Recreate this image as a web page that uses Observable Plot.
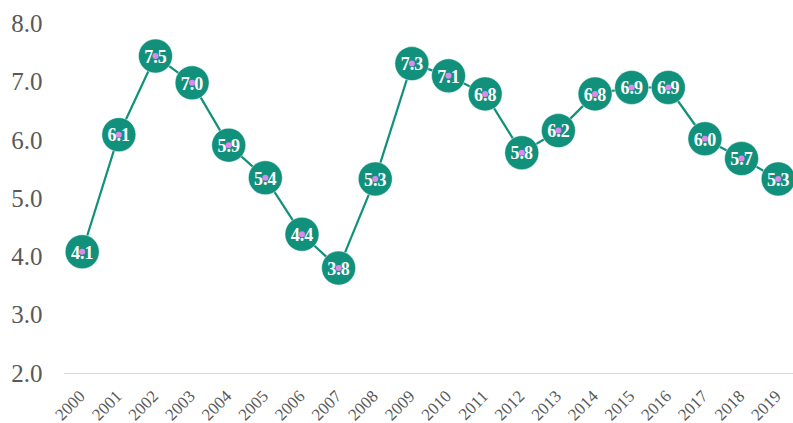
<!DOCTYPE html>
<html>
<head>
<meta charset="utf-8">
<script src="https://cdn.jsdelivr.net/npm/d3@7"></script>
<script src="https://cdn.jsdelivr.net/npm/@observablehq/plot@0.6"></script>
<style>
  html, body { margin: 0; padding: 0; background: #ffffff; }
  #chart { width: 793px; height: 423px; overflow: hidden; }
</style>
</head>
<body>
<div id="chart"></div>
<script>
const years = [2000, 2001, 2002, 2003, 2004, 2005, 2006, 2007, 2008, 2009,
               2010, 2011, 2012, 2013, 2014, 2015, 2016, 2017, 2018, 2019];
const values = [4.09, 6.10, 7.45, 6.99, 5.92, 5.36, 4.39, 3.81, 5.34, 7.32,
                7.11, 6.80, 5.79, 6.17, 6.80, 6.91, 6.91, 6.03, 5.69, 5.34];
const labels = ["4.1","6.1","7.5","7.0","5.9","5.4","4.4","3.8","5.3","7.3",
                "7.1","6.8","5.8","6.2","6.8","6.9","6.9","6.0","5.7","5.3"];
const yTicks = [2, 3, 4, 5, 6, 7, 8];
const yTickLabels = ["2.0","3.0","4.0","5.0","6.0","7.0","8.0"];

const data = years.map((y, i) => ({year: y, value: values[i], label: labels[i]}));

const teal = "#11917b";
const pink = "#dd88ee";
const gray = "#595959";
const serif = "'Liberation Serif', 'Times New Roman', serif";

const chart = Plot.plot({
  width: 793,
  height: 423,
  marginLeft: 64,
  marginRight: 0,
  marginTop: 23.5,
  marginBottom: 50,
  style: {fontFamily: serif, color: gray, background: "#ffffff"},
  x: {type: "linear", domain: [years[0], years[years.length - 1]], range: [81.7, 777.7], axis: null},
  y: {domain: [2, 8], label: null},
  marks: [
    Plot.ruleY([2], {stroke: "#d9d9d9", strokeWidth: 1.2}),
    Plot.axisY(yTicks, {
      tickSize: 0,
      tickPadding: 22,
      fontSize: 25,
      fill: gray,
      label: null,
      tickFormat: (d) => yTickLabels[yTicks.indexOf(d)]
    }),
    Plot.text(years, {
      x: (d) => d,
      text: (d) => String(d),
      frameAnchor: "bottom",
      rotate: -45,
      textAnchor: "end",
      lineAnchor: "middle",
      dy: 20,
      fontSize: 17,
      fill: gray
    }),
    Plot.line(data, {x: "year", y: "value", stroke: teal, strokeWidth: 2.2}),
    Plot.dot(data, {x: "year", y: "value", r: 17, fill: teal, stroke: "#ffffff", strokeWidth: 0.8, strokeOpacity: 0.6}),
    Plot.text(data, {
      x: "year", y: "value", text: "label",
      fill: "#ffffff", fontSize: 18, fontWeight: "bold", dy: 1
    }),
    Plot.dot(data, {x: "year", y: "value", r: 3, fill: pink})
  ]
});

document.getElementById("chart").appendChild(chart);
</script>
</body>
</html>
